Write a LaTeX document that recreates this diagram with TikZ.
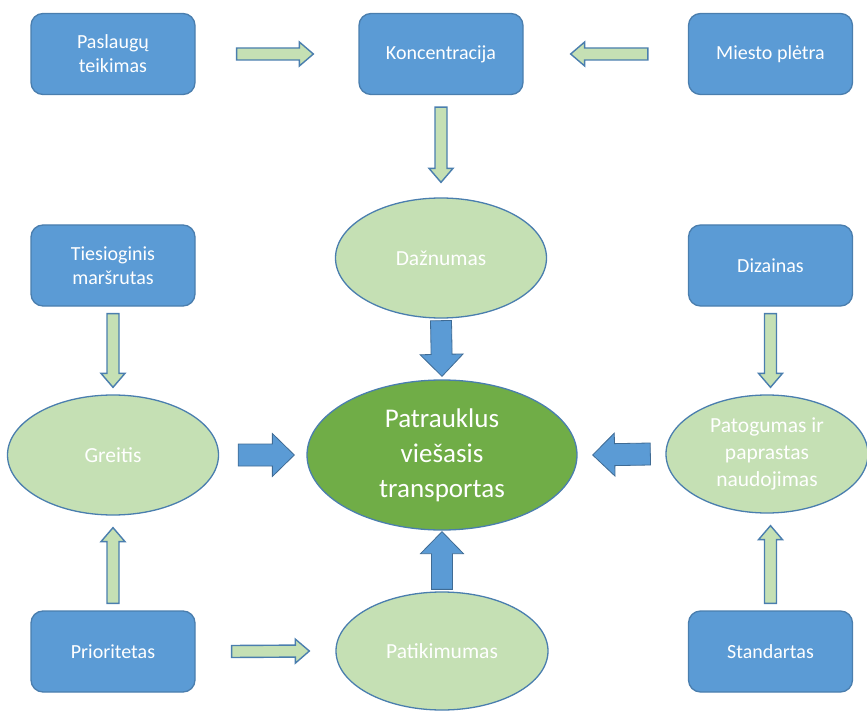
\documentclass[tikz,border=0pt]{standalone}
\usepackage{fontspec}
\setmainfont{Carlito}
\usetikzlibrary{calc,shapes.geometric}

\definecolor{boxblue}{HTML}{5B9BD5}
\definecolor{edgeblue}{HTML}{4A7EAE}
\definecolor{palegreen}{HTML}{C5E0B4}
\definecolor{deepgreen}{HTML}{70AD47}

% Block arrow from #2 to #3: shaft half-width #4, head half-width #5, head length #6 (pt)
\newcommand\blockarrow[6]{%
  \path[#1] let \p1=(#2), \p2=(#3),
      \n1={veclen(\x2-\x1,\y2-\y1)},
      \n2={(\x2-\x1)/\n1}, \n3={(\y2-\y1)/\n1},
      \n4={\n1-#6}
    in ({\x1-#4*\n3*1pt},{\y1+#4*\n2*1pt})
    -- ({\x1+\n4*\n2*1pt-#4*\n3*1pt},{\y1+\n4*\n3*1pt+#4*\n2*1pt})
    -- ({\x1+\n4*\n2*1pt-#5*\n3*1pt},{\y1+\n4*\n3*1pt+#5*\n2*1pt})
    -- (\p2)
    -- ({\x1+\n4*\n2*1pt+#5*\n3*1pt},{\y1+\n4*\n3*1pt-#5*\n2*1pt})
    -- ({\x1+\n4*\n2*1pt+#4*\n3*1pt},{\y1+\n4*\n3*1pt-#4*\n2*1pt})
    -- ({\x1+#4*\n3*1pt},{\y1-#4*\n2*1pt})
    -- cycle;}

\tikzset{
  factor/.style={draw=edgeblue, line width=1.3pt, fill=boxblue, rounded corners=12pt,
    minimum width=164pt, minimum height=81pt, align=center, text=white,
    font=\fontsize{20pt}{24pt}\selectfont},
  aspect/.style={ellipse, draw=edgeblue, line width=1.3pt, fill=palegreen, inner sep=0pt,
    align=center, text=white, font=\fontsize{21.5pt}{27pt}\selectfont},
  goal/.style={ellipse, draw=edgeblue, line width=1.3pt, fill=deepgreen, inner sep=0pt,
    align=center, text=white, font=\fontsize{27pt}{35pt}\selectfont},
  thinarrow/.style={draw=edgeblue, line width=1.4pt, fill=palegreen, line join=miter},
  fatarrow/.style={draw=edgeblue!85!black, line width=0.8pt, fill=boxblue, line join=miter},
}

\begin{document}
\begin{tikzpicture}[x=1pt,y=-1pt]
  \useasboundingbox (0,0) rectangle (867,711);

  % rectangular factors
  \node[factor] (pas) at (113,54)    {Paslaugų\\teikimas};
  \node[factor] (kon) at (441,54)    {Koncentracija};
  \node[factor] (mie) at (770.5,54)  {Miesto plėtra};
  \node[factor] (tie) at (113,265.5) {Tiesioginis\\maršrutas};
  \node[factor] (diz) at (770.5,265.5) {Dizainas};
  \node[factor] (pri) at (113,651.5) {Prioritetas};
  \node[factor] (sta) at (770.5,651.5) {Standartas};

  % qualities
  \node[aspect, minimum width=211pt, minimum height=120pt] (daz) at (441,258) {Dažnumas};
  \node[aspect, minimum width=211pt, minimum height=120pt] (gre) at (113,455) {Greitis};
  \node[aspect, minimum width=202pt, minimum height=118pt] (pat) at (767,454)
    {Patogumas ir\\paprastas\\naudojimas};
  \node[aspect, minimum width=212pt, minimum height=118pt] (pik) at (442,651) {Patikimumas};

  % central goal
  \node[goal, minimum width=270pt, minimum height=150pt] (ctr) at (442,455)
    {Patrauklus\\viešasis\\transportas};

  % arrow end points
  \coordinate (a1s) at ($(pas.east)+(41,0)$);
  \coordinate (a1e) at ($(kon.west)+(-45,0)$);
  \coordinate (a2s) at ($(mie.west)+(-40,0)$);
  \coordinate (a2e) at ($(kon.east)+(47,0)$);
  \coordinate (a3s) at ($(kon.south)+(0,12)$);
  \coordinate (a3e) at ($(daz.north)+(0,-15)$);
  \coordinate (a4s) at ($(tie.south)+(0,7)$);
  \coordinate (a4e) at ($(gre.north)+(0,-7)$);
  \coordinate (a5s) at ($(diz.south)+(0,7)$);
  \coordinate (a5e) at ($(diz.south |- pat.north)+(0,-7)$);
  \coordinate (a6s) at ($(pri.north)+(0,-7)$);
  \coordinate (a6e) at ($(gre.south)+(0,12)$);
  \coordinate (a7s) at ($(sta.north)+(0,-7)$);
  \coordinate (a7e) at ($(sta.north |- pat.south)+(0,12)$);
  \coordinate (a8s) at ($(pri.east)+(36,0)$);
  \coordinate (a8e) at ($(pik.west)+(-26,0)$);

  \coordinate (b1s) at ($(daz.south)+(0,2)$);
  \coordinate (b1e) at ($(ctr.north)+(0,-3)$);
  \coordinate (b2s) at ($(gre.east)+(19,0)$);
  \coordinate (b2e) at ($(ctr.west)+(-12,0)$);
  \coordinate (b3s) at ($(pat.west)+(-15,0)$);
  \coordinate (b3e) at ($(ctr.east)+(15,0)$);
  \coordinate (b4s) at ($(pik.north)+(0,-2)$);
  \coordinate (b4e) at ($(ctr.south)+(0,1)$);

  % light outlined arrows between factors and qualities
  \blockarrow{thinarrow}{a1s}{a1e}{6}{12}{14}
  \blockarrow{thinarrow}{a2s}{a2e}{6}{12}{14}
  \blockarrow{thinarrow}{a3s}{a3e}{6}{12}{14}
  \blockarrow{thinarrow}{a4s}{a4e}{6}{12}{14}
  \blockarrow{thinarrow}{a5s}{a5e}{6}{12}{14}
  \blockarrow{thinarrow}{a6s}{a6e}{6}{12}{14}
  \blockarrow{thinarrow}{a7s}{a7e}{6}{12}{14}
  \blockarrow{thinarrow}{a8s}{a8e}{6}{12}{14}

  % heavy arrows into the goal
  \blockarrow{fatarrow}{b1s}{b1e}{10.5}{21.5}{22}
  \blockarrow{fatarrow}{b2s}{b2e}{11}{21.5}{22}
  \blockarrow{fatarrow}{b3s}{b3e}{11}{21.5}{22}
  \blockarrow{fatarrow}{b4s}{b4e}{10.5}{21.5}{22}
\end{tikzpicture}
\end{document}
